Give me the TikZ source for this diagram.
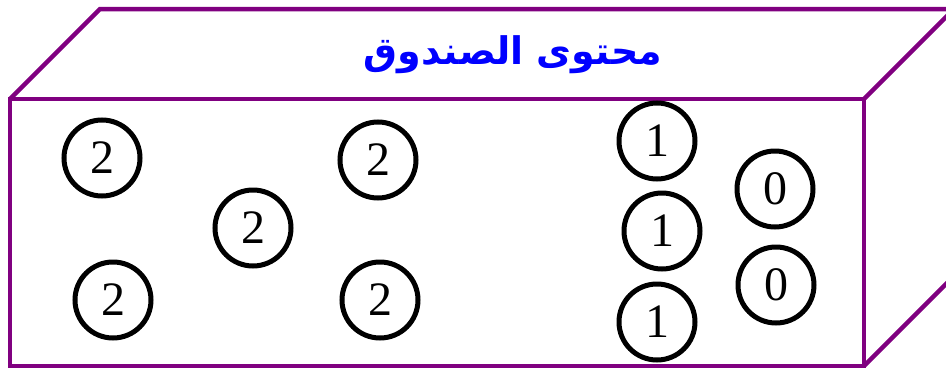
\documentclass[tikz,border=0pt]{standalone}
\usepackage{fontspec}
\setmainfont{Liberation Serif}
\newfontfamily\arabicfont[Script=Arabic]{DejaVu Sans}
\TeXXeTstate=1
\definecolor{boxpurple}{HTML}{800080}
\definecolor{titleblue}{HTML}{0000FF}
\begin{document}
\begin{tikzpicture}[x=1pt,y=-1pt,
  edge/.style={draw=boxpurple,line width=4.5pt,line join=miter},
  ball/.style={circle,draw=black,line width=5pt,minimum size=76pt,inner sep=0pt,font=\fontsize{48}{48}\selectfont}]
\useasboundingbox (0,0) rectangle (946,370);
\clip (0,0) rectangle (946,370);
\coordinate (fa) at (10,99);
\coordinate (fb) at (864,99);
\coordinate (fc) at (864,366);
\coordinate (fd) at (10,366);
\coordinate (ta) at (100,9);
\coordinate (tb) at (954,9);
\coordinate (tc) at (954,276);
\draw[edge] (fa) rectangle (fc);
\draw[edge] (fa) -- (ta) -- (tb) -- (fb);
\draw[edge] (tb) -- (tc) -- (fc);
\node[text=titleblue,font=\arabicfont\bfseries\fontsize{38}{38}\selectfont] (title) at (513,55) {\beginR محتوى الصندوق\endR};
\node[ball] (b1) at (102,158) {2};
\node[ball] (b2) at (253,228) {2};
\node[ball] (b3) at (378,160) {2};
\node[ball] (b4) at (113,300) {2};
\node[ball] (b5) at (380,300) {2};
\node[ball] (c1) at (657,141) {1};
\node[ball] (c2) at (662,231) {1};
\node[ball] (c3) at (657,322) {1};
\node[ball] (d1) at (775,189) {0};
\node[ball] (d2) at (776,285) {0};
\end{tikzpicture}
\end{document}
